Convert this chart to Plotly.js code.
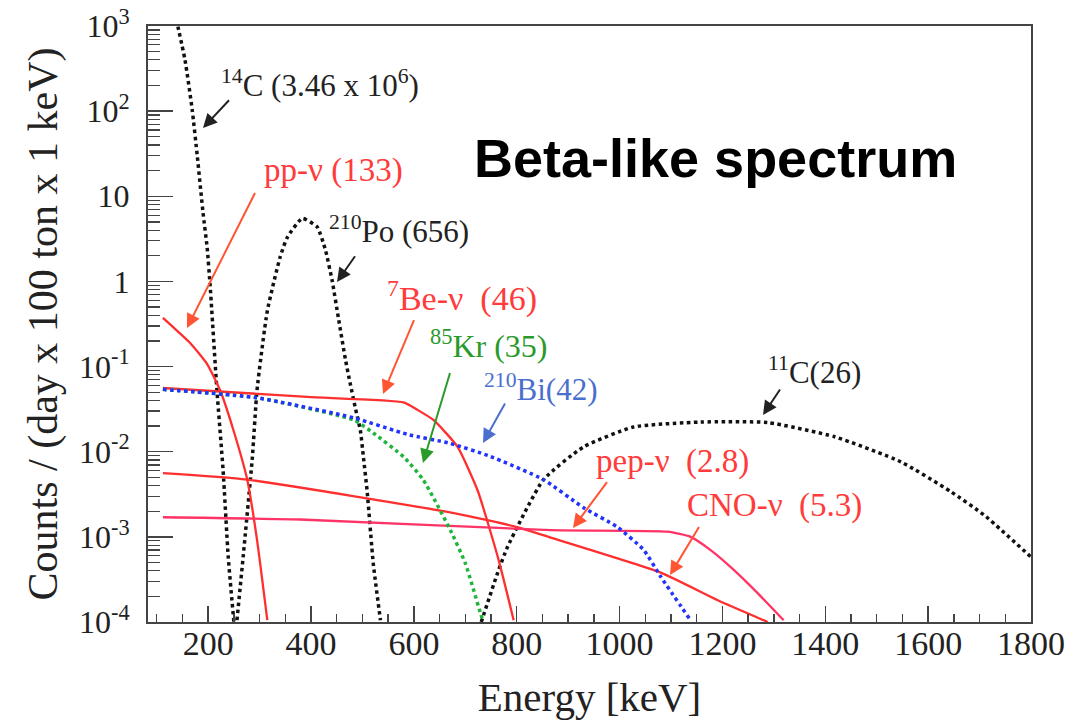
<!DOCTYPE html>
<html>
<head>
<meta charset="utf-8">
<script src="https://cdn.plot.ly/plotly-3.0.1.min.js"></script>
<style>html,body{margin:0;padding:0;background:#fff;}#chart{width:1091px;height:721px;}</style>
</head>
<body>
<div id="chart"></div>
<script>
// ---- data (Energy in keV, counts / (day x 100 ton x 1 keV)) ----
const c14_x = [138, 155, 169, 179, 190, 198, 204, 217, 229, 239, 250];
const c14_y = [1200, 398, 103, 29, 6.4, 2.5, 0.86, 0.053, 0.0061, 5.8e-4, 1e-4];

const po210_x = [256, 268, 286, 295, 315, 340, 354, 383, 412, 428, 441, 453, 467, 476, 486, 496, 502, 509, 521, 535];
const po210_y = [1.05e-4, 5.8e-4, 0.0087, 0.053, 0.45, 1.94, 3.3, 5.5, 4.36, 2.34, 1.03, 0.38, 0.12, 0.064, 0.033, 0.0177, 0.0085, 0.0035, 4.9e-4, 1.05e-4];

const pp_x = [112, 132, 165, 198, 223, 249, 276, 295, 315];
const pp_y = [0.373, 0.29, 0.189, 0.107, 0.053, 0.018, 0.0047, 9.2e-4, 1.05e-4];

const be7_x = [112, 393, 580, 607, 638, 685, 724, 765, 794];
const be7_y = [0.056, 0.044, 0.038, 0.031, 0.0236, 0.0114, 0.0035, 5.3e-4, 1.05e-4];

const kr85_x = [112, 295, 483, 521, 580, 618, 671, 700, 729, 735];
const kr85_y = [0.054, 0.043, 0.0236, 0.0166, 0.0087, 0.0047, 0.0012, 4.9e-4, 1.3e-4, 1e-4];

const bi210_x = [112, 295, 483, 587, 671, 749, 852, 930, 996, 1047, 1080, 1138];
const bi210_y = [0.054, 0.043, 0.025, 0.016, 0.0125, 0.0088, 0.0047, 0.0022, 0.0013, 7e-4, 3.4e-4, 1.05e-4];

const pep_x = [112, 379, 866, 1093, 1138, 1177, 1222, 1268, 1319];
const pep_y = [0.0017, 0.0016, 0.0012, 0.00115, 0.001, 7e-4, 4.1e-4, 2.2e-4, 1.05e-4];

const cno_x = [112, 276, 678, 801, 866, 1080, 1191, 1288];
const cno_y = [0.0056, 0.0047, 0.0019, 0.0013, 9.8e-4, 3.8e-4, 1.8e-4, 1e-4];

const c11_x = [731, 763, 782, 852, 930, 1027, 1158, 1288, 1418, 1547, 1644, 1709, 1800];
const c11_y = [1e-4, 3.8e-4, 7.6e-4, 0.0047, 0.0114, 0.0195, 0.0223, 0.022, 0.015, 0.0076, 0.0034, 0.0018, 5.8e-4];

const xTickVals = [200, 400, 600, 800, 1000, 1200, 1400, 1600, 1800];
const yTickVals = [1e-4, 1e-3, 1e-2, 1e-1, 1, 10, 100, 1000];
const yTickText = ['10<sup>-4</sup>', '10<sup>-3</sup>', '10<sup>-2</sup>', '10<sup>-1</sup>', '1', '10', '10<sup>2</sup>', '10<sup>3</sup>'];

// ---- styling ----
const RED = '#ff2f2f', PEP = '#ff3366', BLACK = '#111111', BLUE = '#2233ff', GREEN = '#1fb53a';
const serif = 'Liberation Serif, Times New Roman, serif';

function tr(x, y, color, dash, width) {
  return {x: x, y: y, type: 'scatter', mode: 'lines', hoverinfo: 'skip',
          line: {color: color, dash: dash, width: width, shape: 'spline', smoothing: 0.5}};
}
const traces = [
  tr(c14_x, c14_y, BLACK, 'dot', 3.5),
  tr(po210_x, po210_y, BLACK, 'dot', 3.5),
  tr(c11_x, c11_y, BLACK, 'dot', 3.5),
  tr(pp_x, pp_y, RED, 'solid', 2.3),
  tr(be7_x, be7_y, RED, 'solid', 2.3),
  tr(cno_x, cno_y, RED, 'solid', 2.3),
  tr(pep_x, pep_y, PEP, 'solid', 2.3),
  tr(kr85_x, kr85_y, GREEN, 'dot', 3.5),
  tr(bi210_x, bi210_y, BLUE, 'dot', 3.5)
];

// minor log ticks
const yMinor = [];
for (let e = -4; e < 3; e++) for (let m = 2; m <= 9; m++) yMinor.push(m * Math.pow(10, e));

// annotation helpers: pixel -> paper coordinates of the plot area
const L = 148, R = 1031, T = 26, B = 622;
const px = v => (v - L) / (R - L);
const py = v => (B - v) / (B - T);

function label(text, cx, cy, color, size) {
  return {xref: 'paper', yref: 'paper', x: px(cx), y: py(cy), text: text, showarrow: false,
          xanchor: 'center', yanchor: 'middle', font: {family: serif, size: size || 31, color: color}};
}
function arrow(tailX, tailY, headX, headY, color) {
  return {xref: 'paper', yref: 'paper', x: px(headX), y: py(headY), ax: tailX - headX, ay: tailY - headY,
          axref: 'pixel', ayref: 'pixel', text: ' ', showarrow: true, arrowhead: 2, arrowsize: 1.4,
          arrowwidth: 2, arrowcolor: color, standoff: 0, startstandoff: 0};
}
const ARR_RED = '#ff5533', TXT_RED = '#ff3b3b';
const annotations = [
  label('<sup>14</sup>C (3.46 x 10<sup>6</sup>)', 320, 83, '#222'),
  arrow(232, 97, 203, 128, '#222'),
  label('pp-ν (133)', 333, 170, TXT_RED, 33),
  arrow(258, 187, 187, 328, ARR_RED),
  label('<sup>210</sup>Po (656)', 399, 230, '#222'),
  arrow(358, 252, 337, 282, '#222'),
  label('<sup>7</sup>Be-ν  (46)', 462, 296, TXT_RED, 34),
  arrow(417, 313, 383, 394, ARR_RED),
  label('<sup>85</sup>Kr (35)', 488, 344, '#2a9a2a', 32),
  arrow(453, 363, 423, 463, '#2a9a2a'),
  label('<sup>210</sup>Bi(42)', 540, 387, '#4a6fcf'),
  arrow(508, 398, 483, 443, '#4a6fcf'),
  label('<sup>11</sup>C(26)', 814, 370, '#222'),
  arrow(783, 385, 763, 415, '#222'),
  label('pep-ν  (2.8)', 672, 462, TXT_RED, 33),
  arrow(610, 478, 573, 528, ARR_RED),
  label('CNO-ν  (5.3)', 774, 505, TXT_RED, 33),
  arrow(702, 522, 670, 575, ARR_RED),
  {xref: 'paper', yref: 'paper', x: px(715), y: py(158), text: '<b>Beta-like spectrum</b>', showarrow: false,
   xanchor: 'center', yanchor: 'middle', font: {family: 'Liberation Sans, Arial, sans-serif', size: 54, color: '#000'}}
];

const layout = {
  width: 1091, height: 721,
  margin: {l: L, r: 1091 - R, t: T, b: 721 - B},
  paper_bgcolor: '#fff', plot_bgcolor: '#fff',
  showlegend: false,
  xaxis: {
    range: [83, 1800], showgrid: false, zeroline: false,
    showline: true, linecolor: '#444', linewidth: 2, mirror: true,
    tickmode: 'array', tickvals: xTickVals,
    ticks: 'inside', ticklen: 16, tickwidth: 1.5, tickcolor: '#444',
    minor: {tickmode: 'linear', tick0: 0, dtick: 50, ticks: 'inside', ticklen: 8, tickwidth: 1.5, tickcolor: '#444', showgrid: false},
    tickfont: {family: serif, size: 34, color: '#222'},
    ticklabelstandoff: -10,
    title: {text: 'Energy [keV]', font: {family: serif, size: 41, color: '#222'}, standoff: 22}
  },
  yaxis: {
    type: 'log', range: [-4, 3], showgrid: false, zeroline: false,
    showline: true, linecolor: '#444', linewidth: 2, mirror: true,
    tickmode: 'array', tickvals: yTickVals, ticktext: yTickText,
    ticks: 'inside', ticklen: 25, tickwidth: 1.5, tickcolor: '#444',
    minor: {tickmode: 'array', tickvals: yMinor, ticks: 'inside', ticklen: 12, tickwidth: 1.2, tickcolor: '#444', showgrid: false},
    tickfont: {family: serif, size: 32, color: '#222'},
    ticklabelstandoff: 10,
    title: {text: 'Counts / (day x 100 ton x 1 keV)', font: {family: serif, size: 42, color: '#222'}, standoff: 8}
  },
  annotations: annotations
};

Plotly.newPlot('chart', traces, layout, {staticPlot: true, displayModeBar: false});
</script>
</body>
</html>
